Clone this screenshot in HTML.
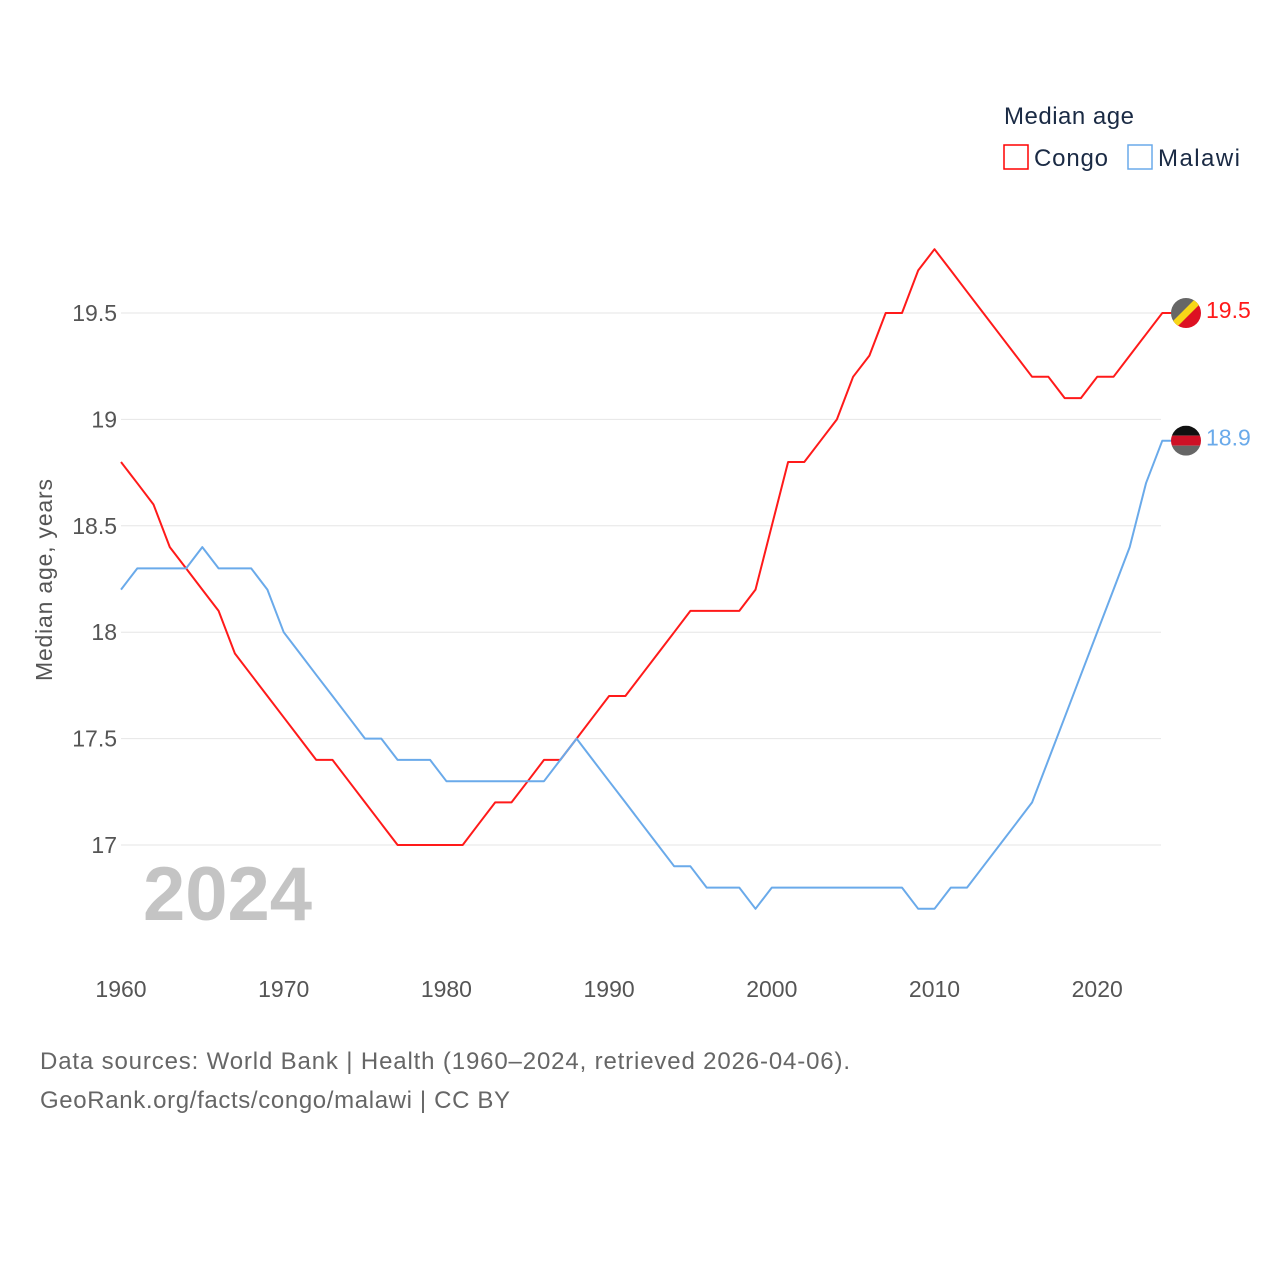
<!DOCTYPE html>
<html><head><meta charset="utf-8"><style>
body{margin:0;background:#fff;}
svg{display:block;font-family:"Liberation Sans",sans-serif;}
</style></head><body>
<svg id="chart" width="1280" height="1280" viewBox="0 0 1280 1280">
<g id="grid"></g>
<g id="yticks"></g>
<g id="xticks"></g>
<text x="52" y="580" transform="rotate(-90 52 580)" text-anchor="middle" font-size="23" fill="#555" textLength="202">Median age, years</text>
<text x="143" y="920" font-size="76" font-weight="bold" fill="#c4c4c4">2024</text>
<g id="series"></g>
<g>
<text x="1004" y="124" font-size="24" fill="#1a2a44" textLength="130">Median age</text>
<g><rect x="1004" y="145" width="24" height="24" fill="none" stroke="#ff0000" stroke-width="1.5"/><text x="1034" y="166" font-size="24" fill="#1a2a44" textLength="74">Congo</text></g>
<g><rect x="1128" y="145" width="24" height="24" fill="none" stroke="#6aaaea" stroke-width="1.5"/><text x="1158" y="166" font-size="24" fill="#1a2a44" textLength="82">Malawi</text></g>
</g>
<text x="40" y="1069" font-size="24" fill="#666" textLength="810">Data sources: World Bank | Health (1960–2024, retrieved 2026-04-06).</text>
<text x="40" y="1108" font-size="24" fill="#666" textLength="470">GeoRank.org/facts/congo/malawi | CC BY</text>
</svg>
<script>
const years=[];for(let y=1960;y<=2024;y++)years.push(y);
const congo=[18.8,18.7,18.6,18.4,18.3,18.2,18.1,17.9,17.8,17.7,17.6,17.5,17.4,17.4,17.3,17.2,17.1,17.0,17.0,17.0,17.0,17.0,17.1,17.2,17.2,17.3,17.4,17.4,17.5,17.6,17.7,17.7,17.8,17.9,18.0,18.1,18.1,18.1,18.1,18.2,18.5,18.8,18.8,18.9,19.0,19.2,19.3,19.5,19.5,19.7,19.8,19.7,19.6,19.5,19.4,19.3,19.2,19.2,19.1,19.1,19.2,19.2,19.3,19.4,19.5];
const malawi=[18.2,18.3,18.3,18.3,18.3,18.4,18.3,18.3,18.3,18.2,18.0,17.9,17.8,17.7,17.6,17.5,17.5,17.4,17.4,17.4,17.3,17.3,17.3,17.3,17.3,17.3,17.3,17.4,17.5,17.4,17.3,17.2,17.1,17.0,16.9,16.9,16.8,16.8,16.8,16.7,16.8,16.8,16.8,16.8,16.8,16.8,16.8,16.8,16.8,16.7,16.7,16.8,16.8,16.9,17.0,17.1,17.2,17.4,17.6,17.8,18.0,18.2,18.4,18.7,18.9];
const yTicks=[17,17.5,18,18.5,19,19.5];
const yTickLabels=["17","17.5","18","18.5","19","19.5"];
const xTicks=[1960,1970,1980,1990,2000,2010,2020];
const NS="http://www.w3.org/2000/svg";
const X=y=>121+(y-1960)*16.27;
const Y=v=>845-(v-17)*212.8;
function mk(t,a,p){const e=document.createElementNS(NS,t);for(const k in a)e.setAttribute(k,a[k]);p.appendChild(e);return e;}
const grid=document.getElementById('grid'),yt=document.getElementById('yticks'),xt=document.getElementById('xticks'),ser=document.getElementById('series');
yTicks.forEach((v,i)=>{
const l=mk('line',{x1:121,x2:1161,y1:Y(v),y2:Y(v),stroke:'#e6e6e6','stroke-width':1},grid);


const t=mk('text',{x:117,y:Y(v)+8,'text-anchor':'end','font-size':23,fill:'#555'},yt);t.textContent=yTickLabels[i];


});
xTicks.forEach(v=>{
const t=mk('text',{x:X(v),y:997,'text-anchor':'middle','font-size':23,fill:'#555'},xt);t.textContent=String(v);


});
function line(data,color,name){
const pts=data.map((v,i)=>X(years[i]).toFixed(1)+','+Y(v).toFixed(1));
const last=data[data.length-1];
pts.push('1186,'+Y(last).toFixed(1));
const p=mk('polyline',{points:pts.join(' '),fill:'none',stroke:color,'stroke-width':2,'stroke-linejoin':'round'},ser);


return last;
}
const cl=line(congo,'#ff1a1a','congo');
const ml=line(malawi,'#6aaaea','malawi');
const fc=mk('g',{},ser);


const cy=Y(cl);
mk('clipPath',{id:'cc'},fc);mk('circle',{cx:1186,cy:cy,r:15},document.getElementById('cc'));
mk('polygon',{points:`1171,${cy-15} 1201,${cy-15} 1171,${cy+15}`,fill:'#666','clip-path':'url(#cc)'},fc);
mk('polygon',{points:`1201,${cy-15} 1201,${cy+15} 1171,${cy+15}`,fill:'#dd1122','clip-path':'url(#cc)'},fc);
mk('line',{x1:1199,y1:cy-13,x2:1173,y2:cy+13,stroke:'#f7d618','stroke-width':7,'clip-path':'url(#cc)'},fc);
const fm=mk('g',{},ser);


const my=Y(ml);
mk('clipPath',{id:'mc'},fm);mk('circle',{cx:1186,cy:my,r:15},document.getElementById('mc'));
mk('rect',{x:1171,y:my-15,width:30,height:10,fill:'#111','clip-path':'url(#mc)'},fm);
mk('rect',{x:1171,y:my-5,width:30,height:10,fill:'#ce1126','clip-path':'url(#mc)'},fm);
mk('rect',{x:1171,y:my+5,width:30,height:10,fill:'#666','clip-path':'url(#mc)'},fm);
const t1=mk('text',{x:1206,y:cy+5,'font-size':23,fill:'#ff1a1a'},ser);t1.textContent=String(cl);


const t2=mk('text',{x:1206,y:my+5,'font-size':23,fill:'#6aaaea'},ser);t2.textContent=String(ml);


</script>
</body></html>
